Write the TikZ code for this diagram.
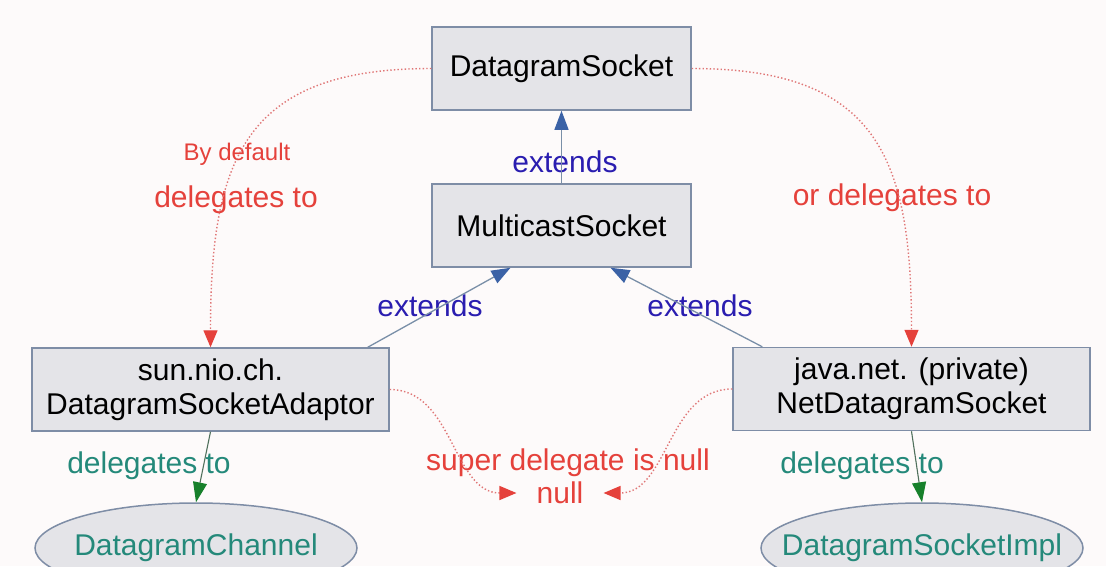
\documentclass[tikz,border=0pt]{standalone}
\usepackage{fontspec}
\setmainfont{Liberation Sans}
\usetikzlibrary{arrows.meta,shapes.geometric}
\definecolor{dsbg}{HTML}{FDFAFA}
\definecolor{dsbox}{HTML}{E4E4E8}
\definecolor{dsedge}{HTML}{7E8DA6}
\definecolor{dsred}{HTML}{E5413B}
\definecolor{dsdot}{HTML}{E07676}
\definecolor{dsblue}{HTML}{2A1DB0}
\definecolor{dsarrow}{HTML}{3B62A6}
\definecolor{dsline}{HTML}{7A8FA8}
\definecolor{dsteal}{HTML}{24897A}
\definecolor{dsgreen}{HTML}{17802B}
\definecolor{dsgline}{HTML}{50705C}

\begin{document}
\begin{tikzpicture}[x=1pt, y=1pt,
  every node/.style={font=\fontsize{30}{34}\selectfont},
  classbox/.style={draw=dsedge, line width=1.5pt, fill=dsbox, minimum width=259pt, minimum height=83pt, inner sep=2pt, align=center},
  implnode/.style={ellipse, draw=dsedge, line width=1.5pt, fill=dsbox, minimum width=322pt, minimum height=90pt, inner sep=0pt, text=dsteal},
  extlabel/.style={text=dsblue, anchor=base, inner sep=0pt},
  redlabel/.style={text=dsred, anchor=base, inner sep=0pt},
  teallabel/.style={text=dsteal, anchor=base, inner sep=0pt},
  extarrow/.style={draw=dsline, line width=1.3pt, -{Triangle[length=19pt,width=14pt,color=dsarrow]}},
  delarrow/.style={draw=dsgline, line width=1.1pt, -{Triangle[length=20pt,width=14pt,color=dsgreen]}},
  dotarrow/.style={draw=dsdot, line width=1.4pt, dash pattern=on 1.4pt off 2.2pt, -{Triangle[length=17pt,width=14pt,color=dsred]}}]
  \clip (0,0) rectangle (1106,-566);
  \fill[dsbg] (0,0) rectangle (1106,-566);

  % class boxes
  \node[classbox] (dgsock) at (561.5,-68.5) {DatagramSocket};
  \node[classbox] (mcsock) at (561.5,-225.5) {MulticastSocket};
  \node[classbox, minimum width=357pt] (adaptor) at (210.5,-389.5) {sun.nio.ch.\\DatagramSocketAdaptor};
  \node[classbox, minimum width=357pt] (netsock) at (911.5,-389) {java.net. (private)\\NetDatagramSocket};
  \node[implnode] (channel) at (196,-548) {\makebox[0pt]{DatagramChannel}};
  \node[implnode] (sockimpl) at (922,-548) {\makebox[0pt]{DatagramSocketImpl}};
  \node[text=dsred, inner xsep=20pt, inner ysep=0pt] (nullval) at (560,-493) {null};

  % labels
  \node[extlabel] (extmid) at (565,-172) {extends};
  \node[extlabel] (extleft) at (430,-316) {extends};
  \node[extlabel] (extright) at (700,-316) {extends};
  \node[redlabel, font=\fontsize{24}{28}\selectfont] (bydefault) at (237,-160) {By default};
  \node[redlabel] (dellbl) at (236,-207) {delegates to};
  \node[redlabel] (ordellbl) at (892,-205) {or delegates to};
  \node[redlabel] (superlbl) at (568,-470) {super delegate is null};
  \node[teallabel] (chanlbl) at (149,-473) {delegates to};
  \node[teallabel] (impllbl) at (862,-473) {delegates to};

  % connectors
  \draw[extarrow] (mcsock) -- (dgsock);
  \draw[extarrow] ([xshift=-22pt]adaptor.north east) -- ([xshift=-51pt]mcsock.south);
  \draw[extarrow] ([xshift=30pt]netsock.north west) -- ([xshift=49pt]mcsock.south);
  \draw[delarrow] (adaptor.south) -- (channel.north);
  \draw[delarrow] (netsock.south) -- (sockimpl.north);
  \draw[dotarrow] (dgsock.west) to[out=180, in=90, looseness=1.35] (adaptor.north);
  \draw[dotarrow] (dgsock.east) to[out=0, in=90, looseness=1.35] (netsock.north);
  \draw[dotarrow] (adaptor.east) to[out=0, in=180] (nullval.west);
  \draw[dotarrow] (netsock.west) to[out=180, in=0] (nullval.east);
\end{tikzpicture}
\end{document}
